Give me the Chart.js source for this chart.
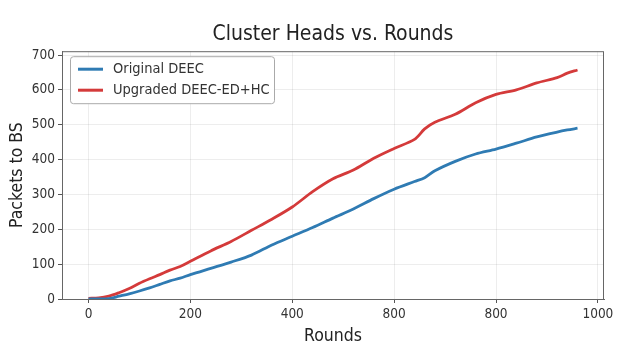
<!DOCTYPE html>
<html>
<head>
<meta charset="utf-8">
<script src="https://cdn.jsdelivr.net/npm/chart.js@4/dist/chart.umd.min.js"></script>
<style>
  html, body { margin: 0; padding: 0; background: #ffffff; }
  #wrap { width: 620px; height: 355px; }
</style>
</head>
<body>
<div id="wrap"><canvas id="c" width="620" height="355"></canvas></div>
<script>
const rounds   = [0, 20, 40, 60, 80, 100, 120, 140, 160, 180, 200, 240, 280, 320, 360, 400, 440, 480, 520, 560, 600, 640, 660, 680, 720, 760, 800, 840, 880, 920, 940, 960];
const original = [0, 0, 1, 8, 15, 23, 32, 42, 52, 60, 70, 88, 106, 126, 155, 180, 205, 232, 258, 288, 315, 337, 348, 368, 395, 416, 430, 447, 465, 479, 485, 490];
const upgraded = [2, 3, 8, 18, 30, 45, 58, 70, 83, 93, 108, 138, 165, 197, 229, 264, 308, 345, 370, 404, 432, 458, 488, 507, 530, 563, 587, 600, 620, 635, 648, 657];
const xTickValues = [0, 200, 400, 600, 800, 1000];
const xTickLabels = ['0', '200', '400', '800', '800', '1000'];
const seriesNames = ['Original DEEC', 'Upgraded DEEC-ED+HC'];

const FONT = "'DejaVu Sans Condensed', 'DejaVu Sans', sans-serif";

const framePlugin = {
  id: 'frame',
  afterDatasetsDraw(chart) {
    const a = chart.chartArea, ctx = chart.ctx;
    ctx.save();
    ctx.strokeStyle = '#666';
    ctx.lineWidth = 1;
    ctx.strokeRect(a.left + 0.5, a.top + 0.5, a.right - a.left - 1, a.bottom - a.top);
    ctx.restore();
  }
};

const legendPlugin = {
  id: 'boxLegend',
  afterDraw(chart) {
    const a = chart.chartArea, ctx = chart.ctx;
    const x = a.left + 8, y = a.top + 5, w = 204, h = 47;
    ctx.save();
    ctx.fillStyle = 'rgba(255,255,255,0.9)';
    ctx.strokeStyle = '#aaa';
    ctx.lineWidth = 1;
    ctx.beginPath();
    ctx.roundRect(x + 0.5, y + 0.5, w, h, 3);
    ctx.fill();
    ctx.stroke();
    ctx.font = "14.5px " + FONT;
    ctx.textBaseline = 'middle';
    chart.data.datasets.forEach((ds, i) => {
      const ly = y + 13 + i * 21;
      ctx.strokeStyle = ds.borderColor;
      ctx.lineWidth = 3;
      ctx.beginPath();
      ctx.moveTo(x + 8, ly);
      ctx.lineTo(x + 33, ly);
      ctx.stroke();
      ctx.fillStyle = '#333';
      ctx.fillText(ds.label, x + 43, ly);
    });
    ctx.restore();
  }
};

new Chart(document.getElementById('c'), {
  type: 'line',
  data: {
    datasets: [
      {
        label: seriesNames[0],
        data: rounds.map((r, i) => ({ x: r, y: original[i] })),
        borderColor: '#2f7bb3',
        borderWidth: 2.8,
        pointRadius: 0,
        tension: 0.3,
        fill: false
      },
      {
        label: seriesNames[1],
        data: rounds.map((r, i) => ({ x: r, y: upgraded[i] })),
        borderColor: '#d43a3a',
        borderWidth: 2.8,
        pointRadius: 0,
        tension: 0.3,
        fill: false
      }
    ]
  },
  options: {
    responsive: false,
    animation: false,
    layout: { padding: { left: 0, right: 16, top: 0, bottom: 0 } },
    plugins: {
      legend: { display: false },
      tooltip: { enabled: false },
      title: {
        display: true,
        fullSize: false,
        text: 'Cluster Heads vs. Rounds',
        color: '#222',
        font: { family: FONT, size: 21, weight: 'normal', lineHeight: 1.2 },
        padding: { top: 22, bottom: 4 }
      }
    },
    scales: {
      x: {
        type: 'linear',
        min: -52,
        max: 1012,
        afterBuildTicks(scale) { scale.ticks = xTickValues.map(v => ({ value: v })); },
        afterFit(scale) { scale.height = 56; },
        ticks: {
          color: '#333',
          font: { family: FONT, size: 13.5 },
          padding: 3,
          callback: (v, i) => xTickLabels[i]
        },
        grid: { color: 'rgba(0,0,0,0.07)', tickColor: '#555', tickLength: 4 },
        border: { color: '#666' },
        title: {
          display: true,
          text: 'Rounds',
          color: '#222',
          font: { family: FONT, size: 17.5 },
          padding: { top: 0, bottom: 8 }
        }
      },
      y: {
        min: 0,
        max: 711,
        afterBuildTicks(scale) { scale.ticks = [0,100,200,300,400,500,600,700].map(v => ({ value: v })); },
        afterFit(scale) { scale.width = 62; },
        ticks: {
          color: '#333',
          font: { family: FONT, size: 13.5 },
          padding: 3
        },
        grid: { color: 'rgba(0,0,0,0.07)', tickColor: '#555', tickLength: 4 },
        border: { color: '#666' },
        title: {
          display: true,
          text: 'Packets to BS',
          color: '#222',
          font: { family: FONT, size: 17.5 },
          padding: { top: 7, bottom: 2 }
        }
      }
    }
  },
  plugins: [framePlugin, legendPlugin]
});
</script>
</body>
</html>
